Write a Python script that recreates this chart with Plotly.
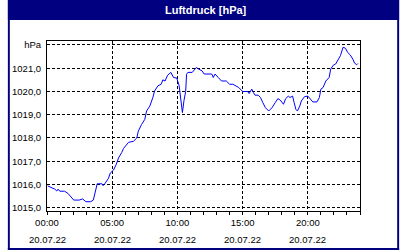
import plotly.graph_objects as go

# --- data ---
times = ["00:03","00:21","00:36","00:45","00:51","00:59","01:21","01:36","01:51","02:03",
         "02:28","02:44","02:59","03:21","03:33","03:43","03:51","04:13","04:18","04:28",
         "04:43","04:51","05:06","05:18","05:29","05:44","05:52","06:15","06:38","06:53",
         "07:00","07:15","07:30","07:38","07:53","08:07","08:15","08:30","08:45","08:53",
         "09:03","09:15","09:30","09:42","09:57","10:08","10:15","10:23","10:30","10:38",
         "10:42","10:48","11:08","11:18","11:27","11:38","11:53","12:03","12:38","12:45",
         "12:53","13:08","13:23","13:45","14:00","14:15","14:30","14:42","15:00","15:23",
         "15:30","15:42","15:50","15:57","16:12","16:22","16:33","16:45","17:00","17:15",
         "17:30","17:42","17:53","18:08","18:18","18:30","18:38","18:50","18:57","19:05",
         "19:12","19:23","19:30","19:45","20:00","20:12","20:23","20:42","20:53","21:00",
         "21:10","21:23","21:38","21:45","21:57","22:08","22:18","22:30","22:42","22:53",
         "23:03","23:15","23:27","23:35","23:45","23:50"]
pressure = [1015.94,1015.88,1015.80,1015.72,1015.80,1015.71,1015.71,1015.62,1015.45,1015.33,
            1015.33,1015.38,1015.26,1015.26,1015.33,1015.77,1016.03,1016.03,1015.95,1016.06,
            1016.27,1016.49,1016.62,1016.85,1017.14,1017.38,1017.55,1017.81,1017.86,1018.00,
            1018.29,1018.58,1018.80,1019.16,1019.37,1019.74,1020.02,1020.24,1020.31,1020.50,
            1020.45,1020.70,1020.82,1020.60,1020.58,1020.24,1019.80,1019.09,1019.60,1020.00,
            1020.74,1020.82,1020.82,1020.96,1021.03,1020.96,1020.89,1020.75,1020.75,1020.60,
            1020.75,1020.60,1020.45,1020.45,1020.31,1020.31,1020.24,1020.17,1020.00,1020.00,
            1019.91,1020.10,1019.95,1019.84,1019.84,1019.74,1019.52,1019.30,1019.16,1019.30,
            1019.52,1019.69,1019.63,1019.45,1019.69,1019.80,1019.74,1019.80,1019.52,1019.23,
            1019.16,1019.37,1019.59,1019.78,1019.80,1019.69,1019.55,1019.55,1019.74,1020.10,
            1020.17,1020.45,1020.60,1020.96,1021.13,1021.18,1021.32,1021.54,1021.90,1021.86,
            1021.68,1021.57,1021.39,1021.22,1021.15,1021.20]
date = "2022-07-20"
x_tick_times = ["00:00", "05:00", "10:00", "15:00", "20:00"]
x_tick_date = "20.07.22"
y_ticks = [1015, 1016, 1017, 1018, 1019, 1020, 1021, 1022]
y_tick_text = ["1015,0", "1016,0", "1017,0", "1018,0", "1019,0", "1020,0", "1021,0", "hPa"]
title = "Luftdruck [hPa]"

x = [f"{date} {t}" for t in times]
xt = [f"{date} {t}" for t in x_tick_times]

W, H = 400, 250
L, R, T, B = 40, 40, 41, 39
pw, ph = W - L - R, H - T - B
def px(v):  # pixel x -> paper
    return (v - L) / pw
def py(v):  # pixel y -> paper
    return (H - B - v) / ph

NAVY = "#000080"
FONT = "Liberation Sans"

fig = go.Figure(go.Scatter(x=x, y=pressure, mode="lines",
                           line=dict(color="#0000FF", width=1), hoverinfo="skip"))

fig.update_layout(
    width=W, height=H, margin=dict(l=L, r=R, t=T, b=B),
    paper_bgcolor="white", plot_bgcolor="white", showlegend=False,
    font=dict(family=FONT, size=9, color="black"),
)
fig.update_xaxes(
    range=[f"{date} 00:00", "2022-07-21 00:00"],
    tickmode="array", tickvals=xt, ticktext=x_tick_times,
    showgrid=True, gridcolor="black", gridwidth=1, griddash="3px,2px",
    ticks="outside", ticklen=3, tickcolor="black",
    minor=dict(tickmode="linear", tick0=f"{date} 00:00", dtick=3600000,
               ticks="outside", ticklen=3, tickcolor="black", showgrid=False),
    showline=True, linecolor="black", linewidth=1, mirror=True,
    zeroline=False, tickfont=dict(size=9.5),
)
fig.update_yaxes(
    range=[1014.86, 1022.17],
    tickmode="array", tickvals=y_ticks, ticktext=y_tick_text,
    showgrid=True, gridcolor="black", gridwidth=1, griddash="3px,2px",
    ticks="", ticklabelstandoff=3,
    showline=True, linecolor="black", linewidth=1, mirror=True,
    zeroline=False, tickfont=dict(size=9.5),
)

shapes = [
    dict(type="rect", xref="paper", yref="paper", x0=px(0), x1=px(W), y0=py(20), y1=py(0),
         fillcolor=NAVY, line=dict(width=0), layer="above"),
    dict(type="rect", xref="paper", yref="paper", x0=px(0), x1=px(2), y0=py(H), y1=py(0),
         fillcolor=NAVY, line=dict(width=0), layer="above"),
    dict(type="rect", xref="paper", yref="paper", x0=px(W - 2), x1=px(W), y0=py(H), y1=py(0),
         fillcolor=NAVY, line=dict(width=0), layer="above"),
    dict(type="rect", xref="paper", yref="paper", x0=px(0), x1=px(W), y0=py(H), y1=py(H - 2),
         fillcolor=NAVY, line=dict(width=0), layer="above"),
]
fig.update_layout(shapes=shapes)

ann = [dict(text=f"<b>{title}</b>", xref="paper", yref="paper", x=px(203), y=py(10),
            xanchor="center", yanchor="middle", showarrow=False,
            font=dict(family=FONT, size=11, color="white"))]
for t in xt:
    ann.append(dict(text=x_tick_date, xref="x", yref="paper", x=t, y=py(239),
                    xanchor="center", yanchor="middle", showarrow=False,
                    font=dict(family=FONT, size=9.5, color="black")))
fig.update_layout(annotations=ann)

fig.write_html("out.html")
